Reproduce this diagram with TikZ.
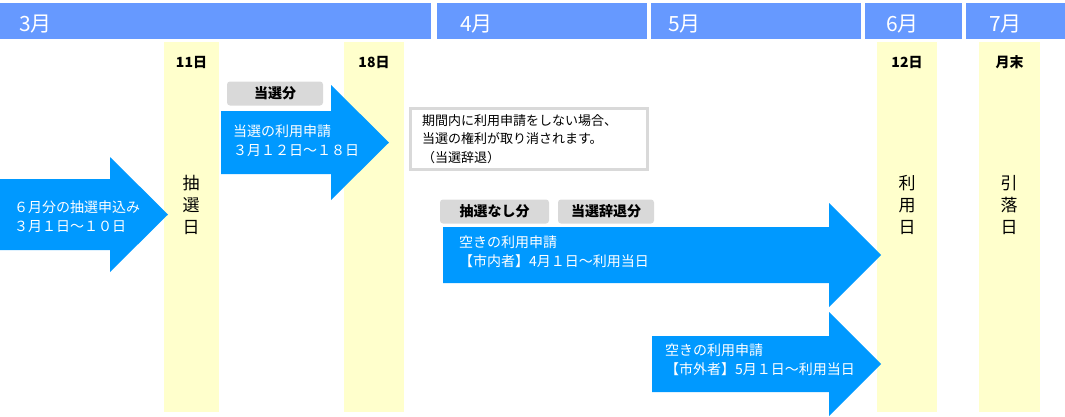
\documentclass[tikz,border=0pt]{standalone}
\usepackage{fontspec}
\setmainfont{Noto Sans CJK JP}
\usetikzlibrary{positioning}
\definecolor{hdrBlue}{RGB}{102,153,255}
\definecolor{arrBlue}{RGB}{0,153,255}
\definecolor{colYellow}{RGB}{255,255,204}
\definecolor{tagGray}{RGB}{217,217,217}

\begin{document}
\begin{tikzpicture}[x=1pt,y=-1pt,
    hdr/.style={fill=hdrBlue},
    hdrtxt/.style={font=\fontsize{21}{24}\selectfont,text=white,
                   anchor=west,inner sep=0pt},
    col/.style={fill=colYellow},
    day/.style={font=\fontsize{14}{15}\selectfont\bfseries,inner sep=0pt},
    vlbl/.style={font=\fontsize{17}{22}\selectfont,align=center,inner sep=0pt},
    arr/.style={fill=arrBlue},
    arrtxt/.style={font=\fontsize{14}{19}\selectfont,text=white,
                   align=left,anchor=west,inner sep=0pt},
    tag/.style={fill=tagGray,rounded corners=3pt,minimum height=24pt,
                font=\fontsize{14}{16}\selectfont\bfseries,inner sep=0pt},
    note/.style={draw=tagGray,line width=3pt,fill=white,align=left,
                 font=\fontsize{13}{18.5}\selectfont,text width=213pt,
                 inner xsep=12pt,minimum height=61pt}]

    \useasboundingbox (0,0) rectangle (1065,416);

    % month bar
    \foreach \n/\xa/\xb/\xt/\lab in {h3/0/431/19/3月, h4/437/647/460/4月,
        h5/651/861/668/5月, h6/865/962/886/6月, h7/966/1065/989/7月} {
      \fill[hdr] (\xa,3) rectangle (\xb,39);
      \node[hdrtxt] (\n) at (\xt,24) {\lab};
    }

    % day columns
    \foreach \n/\xa/\xb/\lab in {c11/164/219/11日, c18/344/404/18日,
        c12/877/937/12日, cend/979/1040/月末} {
      \fill[col] (\xa,42) rectangle (\xb,412);
      \node[day] (\n) at ({(\xa+\xb)/2},62) {\lab};
    }
    \node[vlbl] (draw) at (191,205) {抽\\選\\日};
    \node[vlbl] (use) at (907,205) {利\\用\\日};
    \node[vlbl] (debit) at (1009,205) {引\\落\\日};

    % lottery application
    \fill[arr] (0,179) -- (110,179) -- (110,157) -- (168,214.5)
      -- (110,272) -- (110,250) -- (0,250) -- cycle;
    \node[arrtxt] (a1) at (14,217) {６月分の抽選申込み\\３月１日〜１０日};

    % winners
    \node[tag] (t1) at (275,93.5) [minimum width=96pt] {当選分};
    \fill[arr] (221,111) -- (331,111) -- (331,85) -- (389,142.5)
      -- (331,200) -- (331,174) -- (221,174) -- cycle;
    \node[arrtxt] (a2) at (233,141) {当選の利用申請\\３月１２日〜１８日};

    \node[note] (nt) at (528.5,139)
      {期間内に利用申請をしない場合、\\当選の権利が取り消されます。\\（当選辞退）};

    % vacancies, residents
    \node[tag] (t2) at (494.5,211.5) [minimum width=109pt] {抽選なし分};
    \node[tag] (t3) at (606,211.5) [minimum width=96pt] {当選辞退分};
    \fill[arr] (443,227) -- (829,227) -- (829,203) -- (881,255)
      -- (829,307) -- (829,283) -- (443,283) -- cycle;
    \node[arrtxt] (a3) at (459,252) {空きの利用申請\\【市内者】4月１日〜利用当日};

    % vacancies, non-residents
    \fill[arr] (652,336) -- (829,336) -- (829,312) -- (881,364)
      -- (829,416) -- (829,392) -- (652,392) -- cycle;
    \node[arrtxt] (a4) at (665,360) {空きの利用申請\\【市外者】5月１日〜利用当日};
\end{tikzpicture}
\end{document}
